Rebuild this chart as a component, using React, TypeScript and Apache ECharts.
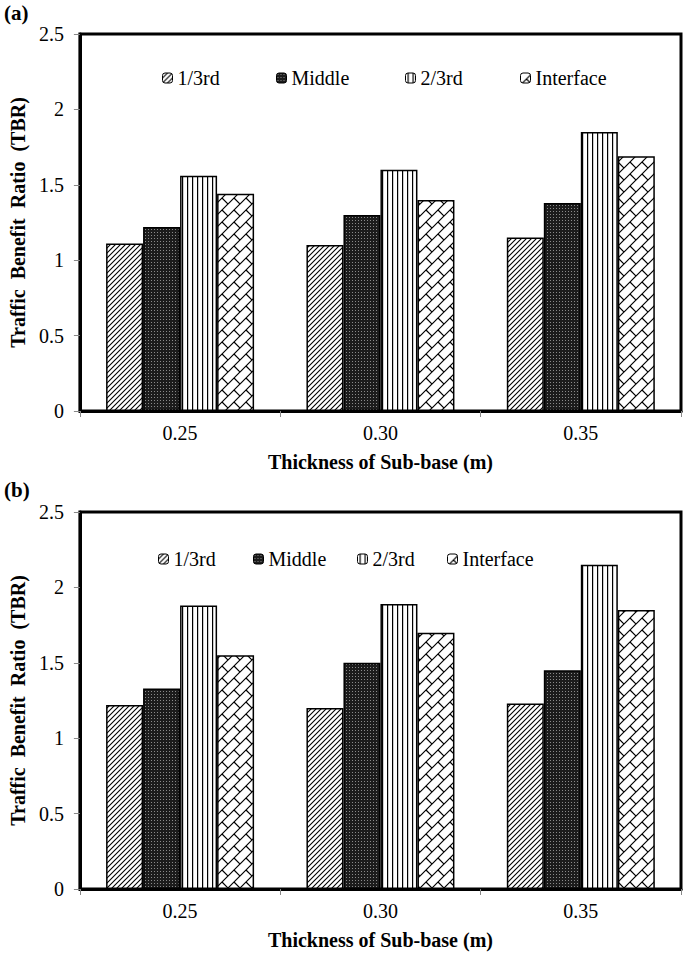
import React, { useEffect, useRef } from "react";
import * as echarts from "echarts";

const categories = ["0.25", "0.30", "0.35"];
const seriesNames = ["1/3rd", "Middle", "2/3rd", "Interface"];
const yTickLabels = ["0", "0.5", "1", "1.5", "2", "2.5"];

// Panel (a)
const aThird1 = [1.11, 1.1, 1.15];
const aMiddle = [1.22, 1.3, 1.38];
const aThird2 = [1.56, 1.6, 1.85];
const aInterface = [1.44, 1.4, 1.69];

// Panel (b)
const bThird1 = [1.22, 1.2, 1.23];
const bMiddle = [1.33, 1.5, 1.45];
const bThird2 = [1.88, 1.89, 2.15];
const bInterface = [1.55, 1.7, 1.85];

const FONT = '"Liberation Serif", "Times New Roman", serif';

const svgUrl = (w: number, h: number, body: string) =>
  "data:image/svg+xml;charset=utf-8," +
  encodeURIComponent(
    `<svg xmlns="http://www.w3.org/2000/svg" width="${w}" height="${h}">${body}</svg>`
  );
const pat = (w: number, h: number, body: string) => ({
  image: svgUrl(w, h, body),
  repeat: "repeat",
  imageWidth: w,
  imageHeight: h,
});

const patterns = [
  pat(
    5,
    5,
    `<rect width="5" height="5" fill="#fff"/><path d="M-1,1 L1,-1 M0,5 L5,0 M4,6 L6,4" stroke="#000" stroke-width="1.1" fill="none"/>`
  ),
  pat(
    3,
    3,
    `<rect width="3" height="3" fill="#1c1c1c"/><rect x="1" y="1" width="1" height="1" fill="#8a8a8a"/>`
  ),
  pat(5, 5, `<rect width="5" height="5" fill="#fff"/><rect x="2" y="0" width="1.2" height="5" fill="#000"/>`),
  pat(
    12,
    12,
    `<rect width="12" height="12" fill="#fff"/><path d="M-1,1 L1,-1 M0,12 L12,0 M11,13 L13,11 M6,6 L12.5,12.5 M-6,-6 L0.3,0.3" stroke="#000" stroke-width="1.2" fill="none"/>`
  ),
];

const panels = [
  { label: "(a)", data: [aThird1, aMiddle, aThird2, aInterface], gridTop: 34, labelTop: 2, legendTop: 68, legendLeft: [162, 276, 405, 520] },
  { label: "(b)", data: [bThird1, bMiddle, bThird2, bInterface], gridTop: 512, labelTop: 479, legendTop: 549, legendLeft: [158, 253, 357, 447] },
];

export default function App() {
  const ref = useRef<HTMLDivElement>(null);
  useEffect(() => {
    document.body.style.margin = "0";
    const chart = echarts.init(ref.current!, null, { renderer: "svg" });
    const grids: any[] = [];
    const xAxes: any[] = [];
    const yAxes: any[] = [];
    const series: any[] = [];
    const legends: any[] = [];
    const titles: any[] = [];
    panels.forEach((p, pi) => {
      grids.push({
        left: 68,
        width: 613,
        top: p.gridTop,
        height: 377,
        show: true,
        borderColor: "#000",
        borderWidth: 3,
        backgroundColor: "#fff",
      });
      xAxes.push({
        type: "category",
        gridIndex: pi,
        data: categories,
        name: "Thickness of Sub-base (m)",
        nameLocation: "middle",
        nameGap: 41,
        nameTextStyle: { fontFamily: FONT, fontWeight: "bold", fontSize: 20, color: "#000" },
        axisLine: { lineStyle: { color: "#000", width: 3 } },
        axisTick: { show: true, length: 6, lineStyle: { color: "#888", width: 1 } },
        axisLabel: { fontFamily: FONT, fontSize: 20, color: "#000", margin: 12 },
        splitLine: { show: false },
      });
      yAxes.push({
        type: "value",
        gridIndex: pi,
        min: 0,
        max: 2.5,
        interval: 0.5,
        name: "Traffic  Benefit  Ratio  (TBR)",
        nameLocation: "middle",
        nameRotate: 90,
        nameGap: 44,
        nameTextStyle: { fontFamily: FONT, fontWeight: "bold", fontSize: 20, color: "#000" },
        axisLine: { show: true, lineStyle: { color: "#000", width: 3 } },
        axisTick: { show: true, length: 6, lineStyle: { color: "#888", width: 1 } },
        axisLabel: {
          fontFamily: FONT,
          fontSize: 20,
          color: "#000",
          margin: 16,
          formatter: (v: number) => yTickLabels[Math.round(v / 0.5)] ?? String(v),
        },
        splitLine: { show: false },
      });
      seriesNames.forEach((name, si) => {
        series.push({
          type: "bar",
          name,
          xAxisIndex: pi,
          yAxisIndex: pi,
          data: p.data[si],
          barWidth: 37,
          barGap: "0%",
          itemStyle: { color: patterns[si], borderColor: "#000", borderWidth: 1.5 },
        });
        legends.push({
          data: [name],
          left: p.legendLeft[si],
          top: p.legendTop,
          padding: 0,
          itemWidth: 10,
          itemHeight: 10,
          itemGap: 6,
          selectedMode: false,
          textStyle: { fontFamily: FONT, fontSize: 20, color: "#000", padding: [0, 0, 0, 0] },
          itemStyle: { borderColor: "#000", borderWidth: 1 },
        });
      });
      titles.push({
        text: p.label,
        left: 4,
        top: p.labelTop,
        padding: 0,
        textStyle: { fontFamily: FONT, fontWeight: "bold", fontSize: 21, color: "#000" },
      });
    });
    chart.setOption({
      animation: false,
      backgroundColor: "#fff",
      title: titles,
      grid: grids,
      xAxis: xAxes,
      yAxis: yAxes,
      legend: legends,
      series,
    });
    return () => chart.dispose();
  }, []);
  return <div ref={ref} style={{ width: 685, height: 954 }} />;
}
